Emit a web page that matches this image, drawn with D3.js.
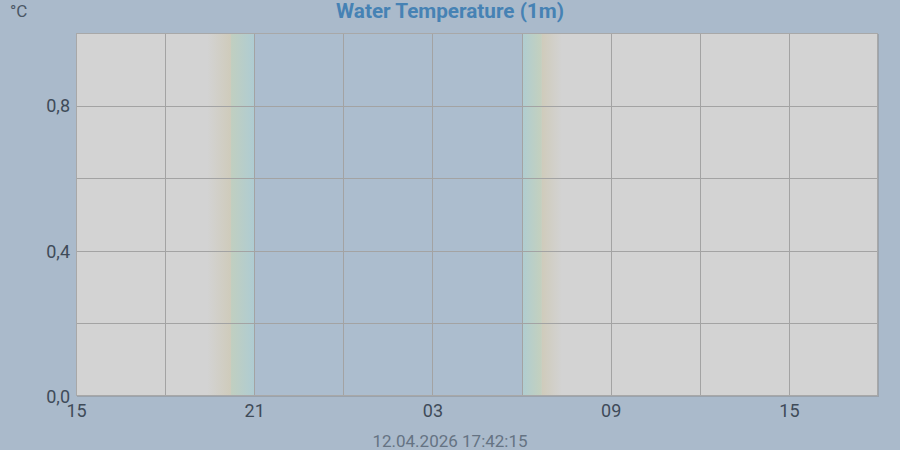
<!DOCTYPE html>
<html>
<head>
<meta charset="utf-8">
<script src="https://cdn.jsdelivr.net/npm/d3@7"></script>
<style>
  html,body{margin:0;padding:0;background:#aabacb;}
  svg{display:block;font-family:Roboto,"DejaVu Sans",sans-serif;}
</style>
</head>
<body>
<div id="chart"></div>
<script>
// time window shown on the x axis
const timeStart = "2026-04-11T15:00";
const timeEnd = "2026-04-12T18:00";
const xTickTimes = ["2026-04-11T15:00","2026-04-11T21:00","2026-04-12T03:00","2026-04-12T09:00","2026-04-12T15:00"];

// y axis
const yDomain = [0, 1];
const yTickValues = [0, 0.4, 0.8];
const yGridValues = [0.2, 0.4, 0.6, 0.8];

// water temperature series (no readings in this window)
const tempTimes = [];
const tempValues = [];

// sun phases: [start, end, fromColor, toColor]
const sunPhases = [
  ["2026-04-11T19:25","2026-04-11T20:13","rgb(211,211,211)","rgb(207,203,187)"],
  ["2026-04-11T20:13","2026-04-11T21:01","rgb(193,207,192)","rgb(174,204,211)"],
  ["2026-04-11T21:01","2026-04-12T06:01","rgb(172,189,206)","rgb(172,189,206)"],
  ["2026-04-12T06:01","2026-04-12T06:41","rgb(175,205,209)","rgb(196,208,190)"],
  ["2026-04-12T06:41","2026-04-12T07:22","rgb(207,203,187)","rgb(211,211,211)"]
];

const title = "Water Temperature (1m)";
const unit = "°C";
const stamp = "12.04.2026 17:42:15";

const width = 900, height = 450;
const margin = {left:76, right:22, top:33, bottom:54};
const parse = d3.timeParse("%Y-%m-%dT%H:%M");

const svg = d3.select("#chart")
  .append("svg")
  .attr("width", width)
  .attr("height", height);

svg.append("rect")
  .attr("width", width)
  .attr("height", height)
  .attr("fill", "#aabacb");

const x = d3.scaleTime()
  .domain([parse(timeStart), parse(timeEnd)])
  .range([margin.left, width - margin.right]);

const y = d3.scaleLinear()
  .domain(yDomain)
  .range([height - margin.bottom, margin.top]);

const plotW = x.range()[1] - x.range()[0];
const plotH = y.range()[0] - y.range()[1];

// plot shadow + background
svg.append("rect")
  .attr("x", margin.left + 1).attr("y", margin.top + 1)
  .attr("width", plotW).attr("height", plotH)
  .attr("fill", "#9aa3ad");

svg.append("rect")
  .attr("x", margin.left).attr("y", margin.top)
  .attr("width", plotW).attr("height", plotH)
  .attr("fill", "#d3d3d3");

// sun phase bands
const defs = svg.append("defs");
sunPhases.forEach((p, i) => {
  const x0 = x(parse(p[0])), x1 = x(parse(p[1]));
  const g = defs.append("linearGradient")
    .attr("id", "phase" + i)
    .attr("gradientUnits", "userSpaceOnUse")
    .attr("x1", x0).attr("x2", x1).attr("y1", 0).attr("y2", 0);
  g.append("stop").attr("offset", 0).attr("stop-color", p[2]);
  g.append("stop").attr("offset", 1).attr("stop-color", p[3]);
  svg.append("rect")
    .attr("x", x0).attr("y", margin.top)
    .attr("width", x1 - x0).attr("height", plotH)
    .attr("fill", "url(#phase" + i + ")");
});

// grid
const gridTimes = d3.timeHour.every(3).range(x.domain()[0], x.domain()[1]).slice(1);
svg.selectAll(".vgrid")
  .data(gridTimes)
  .enter()
  .append("line")
  .attr("class", "vgrid")
  .attr("x1", d => Math.round(x(d)) + 0.5)
  .attr("x2", d => Math.round(x(d)) + 0.5)
  .attr("y1", margin.top)
  .attr("y2", y(0))
  .attr("stroke", "#a3a3a3")
  .attr("stroke-width", 1);

svg.selectAll(".hgrid")
  .data(yGridValues)
  .enter()
  .append("line")
  .attr("class", "hgrid")
  .attr("x1", margin.left)
  .attr("x2", x.range()[1])
  .attr("y1", d => Math.round(y(d)) + 0.5)
  .attr("y2", d => Math.round(y(d)) + 0.5)
  .attr("stroke", "#a3a3a3")
  .attr("stroke-width", 1);

// series line (empty)
svg.append("path")
  .datum(tempTimes.map((t, i) => [parse(t), tempValues[i]]))
  .attr("fill", "none")
  .attr("stroke", "#4682b4")
  .attr("stroke-width", 2)
  .attr("d", d3.line().x(d => x(d[0])).y(d => y(d[1])));

// plot border
svg.append("rect")
  .attr("x", margin.left + 0.5).attr("y", margin.top + 0.5)
  .attr("width", plotW - 1).attr("height", plotH - 1)
  .attr("fill", "none")
  .attr("stroke", "#a8a8a8");

// axes
const fmtY = v => d3.format(".1f")(v).replace(".", ",");

const yAxis = svg.append("g")
  .attr("transform", `translate(${margin.left},0)`)
  .call(d3.axisLeft(y).tickValues(yTickValues).tickFormat(fmtY).tickSize(0).tickPadding(6));

const xAxis = svg.append("g")
  .attr("transform", `translate(0,${y(0)})`)
  .call(d3.axisBottom(x).tickValues(xTickTimes.map(parse)).tickFormat(d3.timeFormat("%H")).tickSize(0).tickPadding(8));

[yAxis, xAxis].forEach(a => {
  a.select(".domain").remove();
  a.selectAll("text")
    .attr("fill", "#3f4b59")
    .style("font-size", "18px")
    .style("font-family", "Roboto, sans-serif");
});
yAxis.selectAll("text").attr("dy", "0.35em");

// title, unit, timestamp
svg.append("text")
  .attr("x", width / 2)
  .attr("y", 18)
  .attr("text-anchor", "middle")
  .attr("fill", "#4682b4")
  .style("font-size", "20.7px")
  .style("font-weight", "bold")
  .text(title);

svg.append("text")
  .attr("x", 10)
  .attr("y", 17)
  .attr("fill", "#4a5765")
  .style("font-size", "17px")
  .text(unit);

svg.append("text")
  .attr("x", width / 2)
  .attr("y", 447)
  .attr("text-anchor", "middle")
  .attr("fill", "#657383")
  .style("font-size", "17px")
  .text(stamp);
</script>
</body>
</html>
